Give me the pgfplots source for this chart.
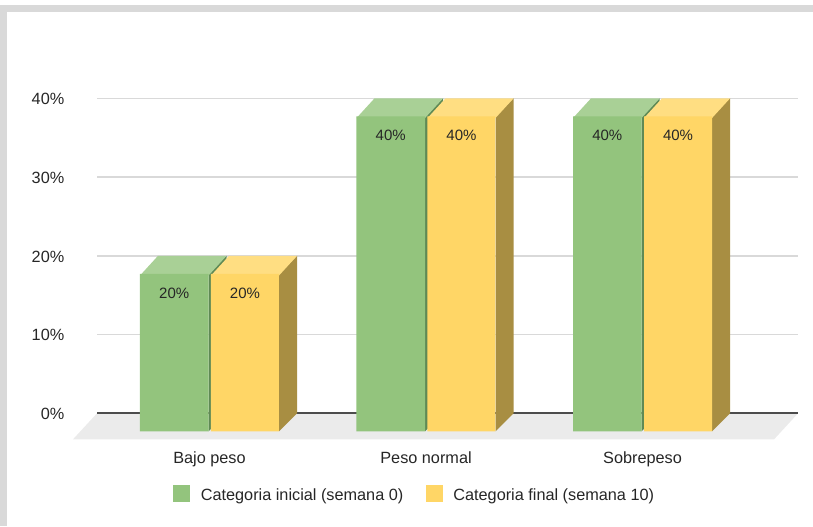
\documentclass[border=0pt]{standalone}
\usepackage{pgfplots}
\pgfplotsset{compat=1.18}
\usepackage{fontspec}
\setmainfont{Liberation Sans}
\definecolor{gface}{HTML}{93C47D}
\definecolor{gtop}{HTML}{A9D096}
\definecolor{gside}{HTML}{5F8A55}
\definecolor{yface}{HTML}{FFD666}
\definecolor{ytop}{HTML}{FFDE82}
\definecolor{yside}{HTML}{A88E42}
\definecolor{frame}{HTML}{D9D9D9}
\definecolor{floorc}{HTML}{EBEBEB}
\definecolor{gridc}{HTML}{D9D9D9}
\definecolor{txt}{HTML}{262626}
\pgfplotstableread{
x v
0 20
1 40
2 40
}\inicial
\pgfplotstableread{
x v
0 20
1 40
2 40
}\final
\begin{document}
\begin{tikzpicture}
% page, 1 px = 0.75 pt
\path (0,0) rectangle (609.75pt,394.5pt);
\fill[frame] (0,0) rectangle (5.25pt,390.75pt);
\fill[frame] (0,385.5pt) rectangle (609.75pt,390.75pt);
\begin{axis}[
    at={(72.75pt,65pt)},
    anchor=south west,
    scale only axis,
    width=525.75pt,
    height=255.75pt,
    clip=false,
    xmin=-0.5196, xmax=2.718,
    ymin=-3.302, ymax=40,
    xtick={0,1,2},
    xticklabels={Bajo peso,Peso normal,Sobrepeso},
    ytick={0,10,20,30,40},
    yticklabel={\pgfmathprintnumber{\tick}\%},
    /pgf/number format/assume math mode=true,
    ymajorgrids,
    major grid style={gridc,line width=1.1pt},
    axis line style={draw=none},
    tick style={draw=none},
    tick label style={font=\fontsize{12.2}{14}\selectfont,text=txt},
    xticklabel style={yshift=-5.5pt},
    yticklabel style={xshift=-21pt,yshift=-0.6pt},
    legend style={at={(axis description cs:0.4536,-0.163)},anchor=center,draw=none,fill=none,
        legend columns=2,font=\fontsize{12.2}{14}\selectfont,text=txt,
        /tikz/every odd column/.append style={column sep=6pt},
        /tikz/every even column/.append style={column sep=14.75pt}},
    legend cell align=left,
]
% floor and baseline
\addplot[forget plot,fill=floorc,draw=none] coordinates {(-0.5196,0) (2.718,0) (2.6074,-3.302) (-0.6305,-3.302)} --cycle;
\addplot[forget plot,color=black!70,line width=1.3pt] coordinates {(-0.5196,0) (2.718,0)};
% bar 3d faces: value is the back edge, front edge sits 18 px lower and left
\addplot[forget plot,fill=gside,draw=none] coordinates {(-0.0046,-2.286) (0.0785,0) (0.0785,20) (-0.0046,17.714)} --cycle;
\addplot[forget plot,fill=gtop,draw=none] coordinates {(-0.321,17.5) (-0.2379,20) (0.0785,20) (-0.0046,17.5)} --cycle;
\addplot[forget plot,fill=yside,draw=none] coordinates {(0.321,-2.286) (0.4041,0) (0.4041,20) (0.321,17.714)} --cycle;
\addplot[forget plot,fill=ytop,draw=none] coordinates {(0.0069,17.5) (0.09,20) (0.4041,20) (0.321,17.5)} --cycle;
\addplot[forget plot,fill=gside,draw=none] coordinates {(0.9954,-2.286) (1.0785,0) (1.0785,40) (0.9954,37.714)} --cycle;
\addplot[forget plot,fill=gtop,draw=none] coordinates {(0.679,37.5) (0.7621,40) (1.0785,40) (0.9954,37.5)} --cycle;
\addplot[forget plot,fill=yside,draw=none] coordinates {(1.321,-2.286) (1.4041,0) (1.4041,40) (1.321,37.714)} --cycle;
\addplot[forget plot,fill=ytop,draw=none] coordinates {(1.0069,37.5) (1.09,40) (1.4041,40) (1.321,37.5)} --cycle;
\addplot[forget plot,fill=gside,draw=none] coordinates {(1.9954,-2.286) (2.0785,0) (2.0785,40) (1.9954,37.714)} --cycle;
\addplot[forget plot,fill=gtop,draw=none] coordinates {(1.679,37.5) (1.7621,40) (2.0785,40) (1.9954,37.5)} --cycle;
\addplot[forget plot,fill=yside,draw=none] coordinates {(2.321,-2.286) (2.4041,0) (2.4041,40) (2.321,37.714)} --cycle;
\addplot[forget plot,fill=ytop,draw=none] coordinates {(2.0069,37.5) (2.09,40) (2.4041,40) (2.321,37.5)} --cycle;
% front faces
\addplot[ybar,bar width=51.4pt,bar shift=-26.45pt,yshift=-13.5pt,fill=gface,draw=none,
    nodes near coords={\pgfmathprintnumber\pgfplotspointmeta\%},
    nodes near coords align={center},
    every node near coord/.append style={xshift=-26.45pt,yshift=-14.5pt,text=txt,font=\fontsize{11.25}{13}\selectfont},
    legend image code/.code={\fill[gface] (0pt,8.5pt) rectangle (12.75pt,21pt);}]
    table[x=x,y=v] {\inicial};
\addlegendentry{Categoria inicial (semana 0)}
\addplot[ybar,bar width=51pt,bar shift=26.6pt,yshift=-13.5pt,fill=yface,draw=none,
    nodes near coords={\pgfmathprintnumber\pgfplotspointmeta\%},
    nodes near coords align={center},
    every node near coord/.append style={xshift=26.6pt,yshift=-14.5pt,text=txt,font=\fontsize{11.25}{13}\selectfont},
    legend image code/.code={\fill[yface] (0pt,8.5pt) rectangle (12.75pt,21pt);}]
    table[x=x,y=v] {\final};
\addlegendentry{Categoria final (semana 10)}
\end{axis}
\end{tikzpicture}
\end{document}
